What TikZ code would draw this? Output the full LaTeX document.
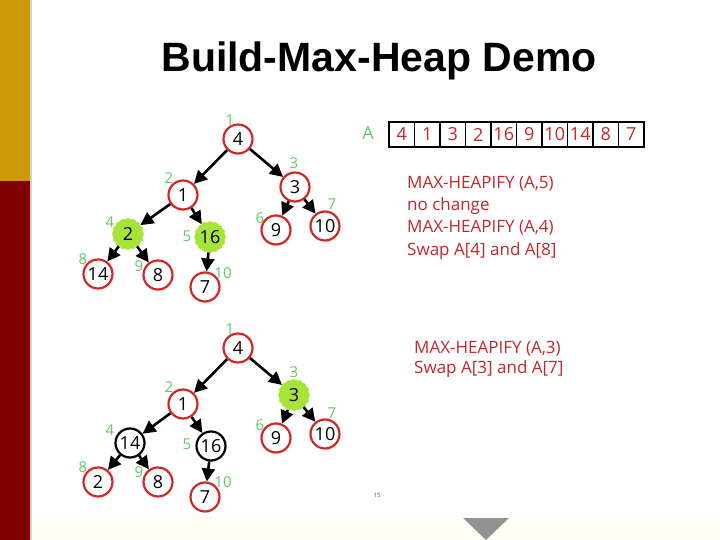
\documentclass[tikz,border=0pt]{standalone}
\usepackage{fontspec}
\setmainfont{Open Sans}
\newfontfamily\titlefont{Liberation Sans}
\usetikzlibrary{arrows.meta,shapes.geometric}
\definecolor{gold}{HTML}{CC9A06}
\definecolor{maroon}{HTML}{7F0000}
\definecolor{sepgrey}{HTML}{D4D4D4}
\definecolor{cream}{HTML}{FEFEF2}
\definecolor{trigrey}{HTML}{929292}
\definecolor{nodered}{HTML}{D02828}
\definecolor{textred}{HTML}{C0282D}
\definecolor{idxgreen}{HTML}{62C862}
\definecolor{lime}{HTML}{A6E43A}
\tikzset{
  hn/.style={circle, draw=nodered, line width=2.2pt, minimum size=29pt, inner sep=0pt, font=\fontsize{18}{18}\selectfont},
  bn/.style={hn, draw=black},
  gn/.style={star, star points=16, star point ratio=1.07, fill=lime, minimum size=32pt, inner sep=0pt, font=\fontsize{18}{18}\selectfont},
  lbl/.style={text=idxgreen, inner sep=0pt, font=\fontsize{15}{15}\selectfont},
  edge/.style={line width=2.6pt, -{Triangle[length=13pt,width=13pt]}},
  cell/.style={draw=black, line width=1.8pt, minimum width=25.5pt, minimum height=25pt, inner sep=0pt, text=textred, font=\fontsize{18}{18}\selectfont},
  note/.style={anchor=base west, inner sep=0pt, text=textred, font=\fontsize{17}{17}\selectfont}
}
\begin{document}
\begin{tikzpicture}[x=1pt,y=-1pt]
\useasboundingbox (0,0) rectangle (720,540);
\fill[white] (0,0) rectangle (720,540);
\fill[gold] (0,0) rectangle (30,181);
\fill[maroon] (0,181) rectangle (30,540);
\fill[sepgrey] (30,0) rectangle (32,540);
\fill[cream] (32,517) rectangle (720,540);
\fill[trigrey] (463,518) -- (509,518) -- (486,540) -- cycle;

\node (title) at (379,61) {\titlefont\bfseries\fontsize{41}{41}\selectfont Build-Max-Heap Demo};

% ---------- tree 1 ----------
\node[hn] (a1) at (238,139) {4};
\node[hn] (a2) at (183,195) {1};
\node[hn] (a3) at (295,187) {3};
\node[gn] (a4) at (128,234) {2};
\node[gn] (a5) at (210,237) {16};
\node[hn] (a6) at (276,230) {9};
\node[hn] (a7) at (325,226) {10};
\node[hn] (a8) at (98,274) {14};
\node[hn] (a9) at (158,275) {8};
\node[hn] (a10) at (205,287) {7};
\draw[edge] (a1) -- (a2);
\draw[edge] (a1) -- (a3);
\draw[edge] (a2) -- (a4);
\draw[edge] (a2) -- (a5);
\draw[edge] (a3) -- (a6);
\draw[edge] (a3) -- (a7);
\draw[edge] (a4) -- (a8);
\draw[edge] (a4) -- (a9);
\draw[edge] (a5) -- (a10);
\node[lbl] (ai1) at (230,120) {1};
\node[lbl] (ai2) at (169,178) {2};
\node[lbl] (ai3) at (294,163) {3};
\node[lbl] (ai4) at (110,222) {4};
\node[lbl] (ai5) at (187,236) {5};
\node[lbl] (ai6) at (260,218) {6};
\node[lbl] (ai7) at (332,204) {7};
\node[lbl] (ai8) at (83,259) {8};
\node[lbl] (ai9) at (139,266) {9};
\node[lbl] (ai10) at (223,273) {10};

% ---------- tree 2 ----------
\node[hn] (b1) at (238,348) {4};
\node[hn] (b2) at (183,404) {1};
\node[gn] (b3) at (294,395) {3};
\node[bn] (b4) at (130,443) {14};
\node[bn] (b5) at (211,446) {16};
\node[hn] (b6) at (276,438) {9};
\node[hn] (b7) at (325,434) {10};
\node[hn] (b8) at (98,482) {2};
\node[hn] (b9) at (158,482) {8};
\node[hn] (b10) at (205,497) {7};
\draw[edge] (b1) -- (b2);
\draw[edge] (b1) -- (b3);
\draw[edge] (b2) -- (b4);
\draw[edge] (b2) -- (b5);
\draw[edge] (b3) -- (b6);
\draw[edge] (b3) -- (b7);
\draw[edge] (b4) -- (b8);
\draw[edge] (b4) -- (b9);
\draw[edge] (b5) -- (b10);
\node[lbl] (bi1) at (230,329) {1};
\node[lbl] (bi2) at (169,387) {2};
\node[lbl] (bi3) at (294,372) {3};
\node[lbl] (bi4) at (110,430) {4};
\node[lbl] (bi5) at (187,444) {5};
\node[lbl] (bi6) at (260,425) {6};
\node[lbl] (bi7) at (332,413) {7};
\node[lbl] (bi8) at (83,467) {8};
\node[lbl] (bi9) at (139,472) {9};
\node[lbl] (bi10) at (223,482) {10};

% ---------- array ----------
\node[text=idxgreen, inner sep=0pt, font=\fontsize{18}{18}\selectfont] (A) at (368,133) {A};
\foreach \v [count=\i] in {4,1,3,2,16,9,10,14,8,7} {
  \node[cell] (c\i) at ({389+25.5*(\i-0.5)},134.5) {\v};
}

% ---------- notes ----------
\node[note] (n1) at (407,189) {MAX-HEAPIFY (A,5)};
\node[note] (n2) at (407,211) {no change};
\node[note] (n3) at (407,233) {MAX-HEAPIFY (A,4)};
\node[note] (n4) at (407,255) {Swap A[4] and A[8]};
\node[note] (m1) at (414,353) {MAX-HEAPIFY (A,3)};
\node[note] (m2) at (414,373) {Swap A[3] and A[7]};

\node[text=black!70, inner sep=0pt, font=\fontsize{6}{6}\selectfont] (pg) at (377,495) {15};
\end{tikzpicture}
\end{document}
